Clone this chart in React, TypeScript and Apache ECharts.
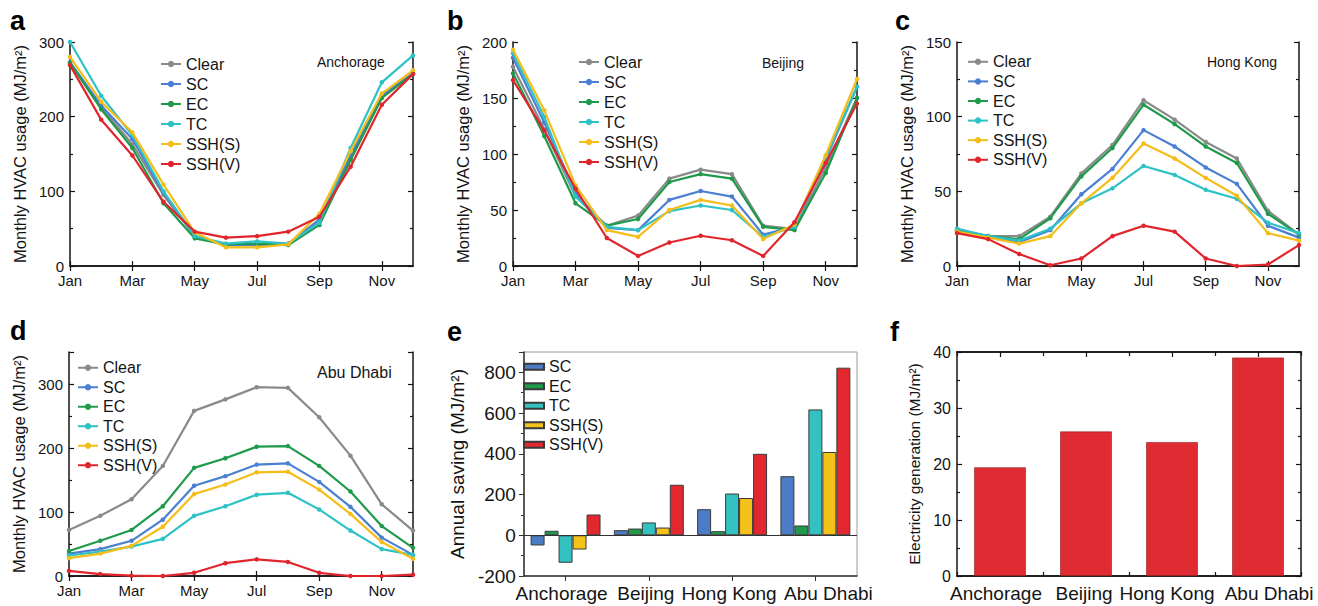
import React, { useEffect, useRef } from "react";
import * as echarts from "echarts";

// ---------------- data ----------------
const months = ["Jan", "Feb", "Mar", "Apr", "May", "Jun", "Jul", "Aug", "Sep", "Oct", "Nov", "Dec"];
const lineNames = ["Clear", "SC", "EC", "TC", "SSH(S)", "SSH(V)"];
const barNames = ["SC", "EC", "TC", "SSH(S)", "SSH(V)"];
const cities = ["Anchorage", "Beijing", "Hong Kong", "Abu Dhabi"];

// Anchorage
const clearA = [272, 213, 163, 95, 40, 28, 28, 30, 62, 145, 228, 258];
const scA = [273, 215, 170, 98, 40, 28, 29, 29, 62, 148, 228, 258];
const ecA = [272, 210, 158, 84, 37, 29, 30, 28, 55, 142, 225, 257];
const tcA = [300, 228, 175, 100, 40, 30, 33, 30, 58, 158, 246, 282];
const sshsA = [280, 220, 179, 109, 45, 25, 25, 29, 70, 154, 231, 262];
const sshvA = [269, 196, 148, 86, 46, 38, 40, 46, 66, 133, 216, 257];

// Beijing
const clearB = [178, 122, 62, 36, 45, 78, 86, 82, 36, 33, 88, 150];
const scB = [186, 128, 65, 34, 32, 59, 67, 62, 28, 35, 95, 160];
const ecB = [172, 116, 56, 36, 42, 75, 82, 78, 35, 32, 83, 150];
const tcB = [190, 133, 62, 35, 32, 49, 54, 50, 26, 35, 97, 160];
const sshsB = [193, 139, 72, 32, 26, 50, 59, 54, 24, 37, 99, 167];
const sshvB = [166, 121, 69, 25, 9, 21, 27, 23, 9, 39, 92, 145];

// Hong Kong
const clearC = [24, 20, 20, 33, 62, 81, 111, 98, 83, 72, 37, 21];
const scC = [24, 20, 16, 24, 48, 65, 91, 80, 66, 55, 27, 19];
const ecC = [24, 20, 18, 32, 60, 79, 108, 95, 80, 69, 35, 21];
const tcC = [25, 20, 17, 25, 42, 52, 67, 61, 51, 45, 29, 22];
const sshsC = [23, 19, 15, 20, 42, 59, 82, 72, 59, 47, 22, 17];
const sshvC = [22, 18, 8, 0.5, 5, 20, 27, 23, 5, 0, 1, 14];

// Abu Dhabi
const clearD = [72, 94, 120, 172, 258, 276, 295, 294, 248, 188, 112, 71];
const scD = [35, 42, 55, 88, 141, 156, 174, 176, 147, 108, 60, 33];
const ecD = [39, 55, 72, 109, 169, 184, 202, 203, 172, 132, 78, 44];
const tcD = [32, 38, 46, 58, 94, 109, 127, 130, 104, 71, 42, 33];
const sshsD = [28, 35, 47, 77, 128, 143, 162, 163, 135, 97, 53, 27];
const sshvD = [8, 3, 0.5, 0, 5, 20, 26, 22, 5, 0, 0, 2];

// Annual saving (e)
const savSC = [-50, 25, 128, 290];
const savEC = [22, 33, 20, 48];
const savTC = [-135, 63, 205, 618];
const savSSHS = [-70, 38, 183, 409];
const savSSHV = [102, 248, 400, 823];

// Electricity generation (f)
const elecGen = [19.4, 25.8, 23.9, 39];

// ---------------- styles ----------------
const FONT = "'Liberation Sans', Arial, Helvetica, sans-serif";
const INK = "#141414";
const lineColors = ["#8a8a8a", "#4b7fd1", "#1f9a4b", "#2ec2c6", "#f4bd1a", "#e1252d"];
const barColors = ["#4c7cc6", "#1f9a4b", "#33c1c1", "#f5c21a", "#e3272f"];

const axisLineStyle = { color: INK, width: 1.5 };

function letter(t: string, x: number, y: number) {
  return {
    type: "text",
    left: x,
    top: y,
    style: { text: t, font: `bold 27px ${FONT}`, fill: "#000" },
  };
}

function cityText(t: string, x: number, y: number, size: number) {
  return {
    type: "text",
    left: x,
    top: y,
    style: { text: t, font: `${size}px ${FONT}`, fill: INK },
  };
}

// horizontal nudges of the category labels (px), as in the original layout
function shiftedLabels(shifts: number[]) {
  const rich: any = {};
  shifts.forEach((s, i) => {
    rich["s" + i] = {
      fontSize: 19,
      fontFamily: FONT,
      color: INK,
      padding: s < 0 ? [0, -2 * s, 0, 0] : [0, 0, 0, 2 * s],
    };
  });
  return {
    interval: 0,
    fontSize: 19,
    color: INK,
    margin: 8,
    fontFamily: FONT,
    formatter: (v: string, i: number) => `{s${i}|${v}}`,
    rich,
  };
}

type LineCfg = {
  data: number[][];
  letter: string;
  letterX: number;
  city: string;
  cityX: number;
  cityY: number;
  citySize: number;
  grid: { left: number; top: number; width: number; height: number };
  max: number;
  interval: number;
  nameGap: number;
  legendLeft: number;
  legendTop: number;
  legendLine: number;
  showMax: boolean;
};

function lineOption(c: LineCfg) {
  const xBase = {
    type: "category",
    data: months,
    boundaryGap: false,
    axisLine: { show: true, lineStyle: axisLineStyle },
    axisTick: { show: true, inside: true, interval: 1, length: 5, lineStyle: { color: INK, width: 1.2 } },
    splitLine: { show: false },
  };
  const yBase = {
    type: "value",
    min: 0,
    max: c.max,
    interval: c.interval,
    axisLine: { show: true, lineStyle: axisLineStyle },
    axisTick: { show: true, inside: true, length: 5, lineStyle: { color: INK, width: 1.2 } },
    minorTick: { show: true, splitNumber: 2, length: 3, lineStyle: { color: INK, width: 1.2 } },
    splitLine: { show: false },
    minorSplitLine: { show: false },
  };
  return {
    animation: false,
    textStyle: { fontFamily: FONT },
    grid: c.grid,
    graphic: [letter(c.letter, c.letterX, c.grid.top - 35), cityText(c.city, c.cityX, c.cityY, c.citySize)],
    legend: {
      orient: "vertical",
      left: c.legendLeft,
      top: c.legendTop,
      padding: 0,
      itemWidth: 20,
      itemHeight: 8,
      itemGap: 0,
      data: lineNames,
      textStyle: { fontSize: 16, lineHeight: c.legendLine, color: INK, fontFamily: FONT },
    },
    xAxis: [
      {
        ...xBase,
        position: "bottom",
        axisLabel: { interval: 1, fontSize: 15, color: INK, margin: 7, fontFamily: FONT },
      },
      { ...xBase, position: "top", axisLabel: { show: false } },
    ],
    yAxis: [
      {
        ...yBase,
        position: "left",
        name: "Monthly HVAC usage (MJ/m²)",
        nameLocation: "middle",
        nameGap: c.nameGap,
        nameTextStyle: { fontSize: 16.5, color: INK, fontFamily: FONT },
        axisLabel: { fontSize: 15, color: INK, margin: 6, fontFamily: FONT, showMaxLabel: c.showMax },
      },
      { ...yBase, position: "right", axisLabel: { show: false } },
    ],
    series: lineNames.map((n, i) => ({
      type: "line",
      name: n,
      data: c.data[i],
      xAxisIndex: 0,
      yAxisIndex: 0,
      symbol: "circle",
      symbolSize: 4.5,
      lineStyle: { width: 2.2, color: lineColors[i] },
      itemStyle: { color: lineColors[i] },
      z: 2 + i,
    })),
  };
}

function savingOption() {
  const data = [savSC, savEC, savTC, savSSHS, savSSHV];
  const grid = { left: 73, top: 52, width: 344, height: 224, show: true, borderColor: "#9a9a9a", borderWidth: 1 };
  return {
    animation: false,
    textStyle: { fontFamily: FONT },
    grid,
    graphic: [letter("e", 7, 18)],
    legend: {
      orient: "vertical",
      left: 83,
      top: 57,
      padding: 0,
      icon: "rect",
      itemWidth: 20,
      itemHeight: 6,
      itemGap: 0,
      data: barNames,
      textStyle: { fontSize: 16, lineHeight: 19.5, color: INK, fontFamily: FONT },
    },
    xAxis: {
      type: "category",
      data: cities,
      axisLine: { show: true, onZero: false, lineStyle: { color: "#333", width: 1.5 } },
      axisTick: { show: true, alignWithLabel: true, length: 5, lineStyle: { color: "#333" } },
      axisLabel: shiftedLabels([-4, -3, -3, 13]),
      splitLine: { show: false },
    },
    yAxis: {
      type: "value",
      min: -200,
      max: 900,
      interval: 200,
      name: "Annual saving (MJ/m²)",
      nameLocation: "middle",
      nameGap: 50,
      nameTextStyle: { fontSize: 19, color: INK, fontFamily: FONT },
      axisLine: { show: true, lineStyle: { color: "#333", width: 1.5 } },
      axisTick: { show: true, length: 5, lineStyle: { color: "#333" } },
      minorTick: { show: true, splitNumber: 2, length: 3, lineStyle: { color: "#333" } },
      axisLabel: { fontSize: 19, color: INK, margin: 8, fontFamily: FONT, showMaxLabel: false },
      splitLine: { show: false },
    },
    series: barNames.map((n, i) => ({
      type: "bar",
      name: n,
      data: data[i],
      barGap: "0%",
      barCategoryGap: "16%",
      itemStyle: { color: barColors[i], borderColor: "#3a3a3a", borderWidth: 1 },
      markLine:
        i === 0
          ? {
              silent: true,
              symbol: "none",
              label: { show: false },
              lineStyle: { color: "#333", width: 1, type: "solid" },
              data: [{ yAxis: 0 }],
            }
          : undefined,
    })),
  };
}

function elecOption() {
  const grid = { left: 77, top: 52, width: 344, height: 224 };
  const tick = { lineStyle: { color: INK, width: 1.2 } };
  const xCommon = {
    type: "category",
    data: cities,
    axisLine: { show: true, onZero: false, lineStyle: axisLineStyle },
    splitLine: { show: false },
  };
  const yBase = {
    type: "value",
    min: 0,
    max: 40,
    interval: 10,
    axisLine: { show: true, lineStyle: axisLineStyle },
    axisTick: { show: true, inside: true, length: 5, ...tick },
    minorTick: { show: true, splitNumber: 2, length: 3, ...tick },
    splitLine: { show: false },
  };
  return {
    animation: false,
    textStyle: { fontFamily: FONT },
    grid,
    graphic: [letter("f", 10, 18)],
    xAxis: [
      {
        ...xCommon,
        position: "bottom",
        axisTick: { show: true, inside: true, alignWithLabel: true, length: 5, ...tick },
        axisLabel: shiftedLabels([-4, -2, -5, 11]),
      },
      {
        ...xCommon,
        position: "bottom",
        axisTick: { show: true, inside: true, length: 4, ...tick },
        axisLabel: { show: false },
      },
      {
        ...xCommon,
        position: "top",
        axisTick: { show: true, inside: true, alignWithLabel: true, length: 5, ...tick },
        axisLabel: { show: false },
      },
      {
        ...xCommon,
        position: "top",
        axisTick: { show: true, inside: true, length: 4, ...tick },
        axisLabel: { show: false },
      },
    ],
    yAxis: [
      {
        ...yBase,
        position: "left",
        name: "Electricity generation (MJ/m²)",
        nameLocation: "middle",
        nameGap: 34,
        nameTextStyle: { fontSize: 15.5, color: INK, fontFamily: FONT },
        axisLabel: { fontSize: 16, color: INK, margin: 6, fontFamily: FONT },
      },
      { ...yBase, position: "right", axisLabel: { show: false } },
    ],
    series: [
      {
        type: "bar",
        name: "Electricity generation",
        data: elecGen,
        xAxisIndex: 0,
        yAxisIndex: 0,
        barWidth: "60%",
        itemStyle: { color: "#e12b33", borderColor: "#8c1d1d", borderWidth: 0.6 },
      },
    ],
  };
}

function Chart({ option, left, top, width, height }: any) {
  const ref = useRef<HTMLDivElement>(null);
  useEffect(() => {
    if (!ref.current) return;
    const chart = echarts.init(ref.current, undefined, { renderer: "svg" });
    chart.setOption(option);
    return () => chart.dispose();
  }, []);
  return <div ref={ref} style={{ position: "absolute", left, top, width, height }} />;
}

export default function App() {
  const optA = lineOption({
    data: [clearA, scA, ecA, tcA, sshsA, sshvA],
    letter: "a",
    letterX: 10,
    city: "Anchorage",
    cityX: 317,
    cityY: 55,
    citySize: 14,
    grid: { left: 70, top: 42, width: 343, height: 224 },
    max: 300,
    interval: 100,
    nameGap: 37,
    legendLeft: 160,
    legendTop: 54,
    legendLine: 20,
    showMax: true,
  });
  const optB = lineOption({
    data: [clearB, scB, ecB, tcB, sshsB, sshvB],
    letter: "b",
    letterX: 7,
    city: "Beijing",
    cityX: 322,
    cityY: 56,
    citySize: 14,
    grid: { left: 73, top: 42, width: 344, height: 224 },
    max: 200,
    interval: 50,
    nameGap: 37,
    legendLeft: 138,
    legendTop: 52,
    legendLine: 20,
    showMax: true,
  });
  const optC = lineOption({
    data: [clearC, scC, ecC, tcC, sshsC, sshvC],
    letter: "c",
    letterX: 15,
    city: "Hong Kong",
    cityX: 327,
    cityY: 55,
    citySize: 14,
    grid: { left: 77, top: 42, width: 342, height: 224 },
    max: 150,
    interval: 50,
    nameGap: 35,
    legendLeft: 87,
    legendTop: 52,
    legendLine: 19.6,
    showMax: true,
  });
  const optD = lineOption({
    data: [clearD, scD, ecD, tcD, sshsD, sshvD],
    letter: "d",
    letterX: 10,
    city: "Abu Dhabi",
    cityX: 317,
    cityY: 64,
    citySize: 16,
    grid: { left: 69, top: 52, width: 344, height: 224 },
    max: 350,
    interval: 100,
    nameGap: 40,
    legendLeft: 77,
    legendTop: 58,
    legendLine: 19.5,
    showMax: false,
  });

  return (
    <div style={{ position: "fixed", left: 0, top: 0, width: 1318, height: 606, background: "#fff" }}>
      <Chart option={optA} left={0} top={0} width={440} height={300} />
      <Chart option={optB} left={440} top={0} width={440} height={300} />
      <Chart option={optC} left={880} top={0} width={438} height={300} />
      <Chart option={optD} left={0} top={300} width={440} height={306} />
      <Chart option={savingOption()} left={440} top={300} width={440} height={306} />
      <Chart option={elecOption()} left={880} top={300} width={438} height={306} />
    </div>
  );
}
